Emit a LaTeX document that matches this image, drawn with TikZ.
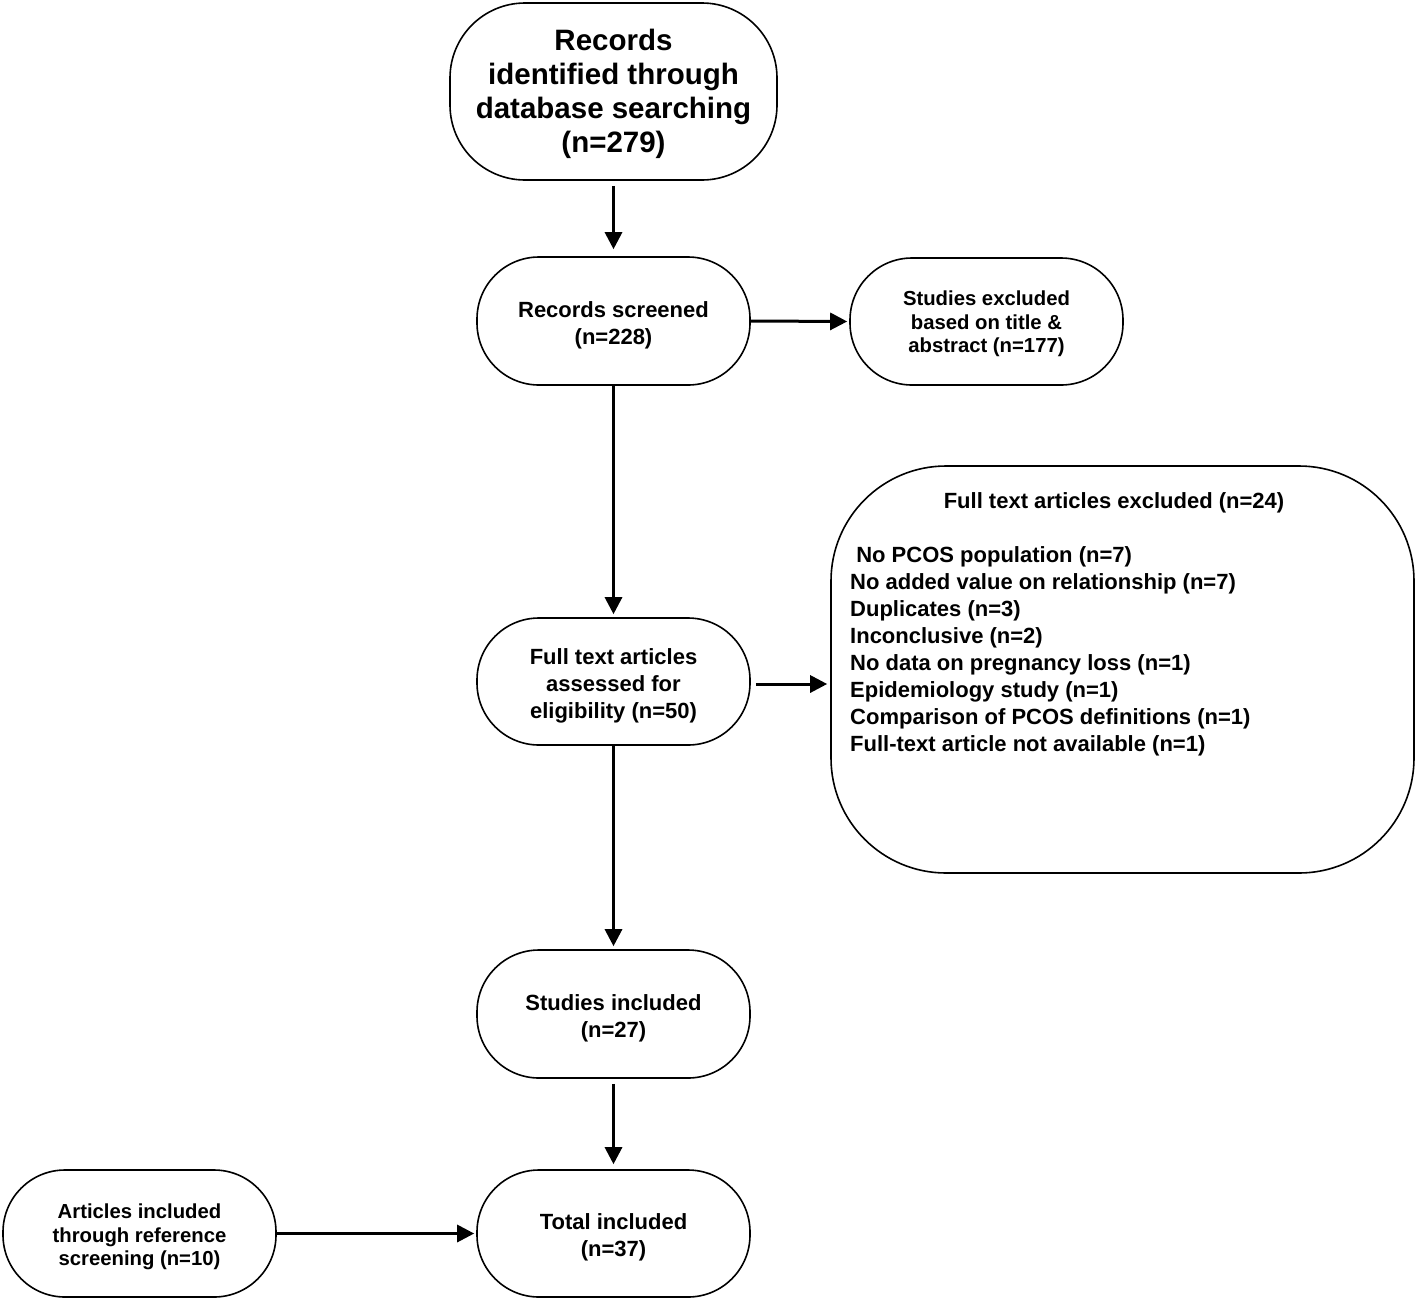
\documentclass[tikz,border=0pt]{standalone}
\usepackage{fontspec}
\setmainfont{Liberation Sans}
\usetikzlibrary{arrows.meta}
\begin{document}
\begin{tikzpicture}[x=1pt,y=-1pt,
  box/.style={draw, line width=1.6pt, rounded corners=#1, inner sep=0pt},
  box/.default=62pt,
  lbl/.style={inner sep=0pt, align=center},
  big/.style={lbl, font=\bfseries\fontsize{29.5}{34}\selectfont},
  mid/.style={lbl, font=\bfseries\fontsize{22}{27}\selectfont},
  small/.style={lbl, font=\bfseries\fontsize{20.3}{23.5}\selectfont},
  arr/.style={line width=3pt, -{Triangle[length=17pt,width=17pt]}}
]
\useasboundingbox (0,0) rectangle (1417,1302);
% boxes
\node[box=75pt, minimum width=327pt, minimum height=177pt] (top) at (613.5,91.5) {};
\node[box, minimum width=273pt, minimum height=128pt] (scr) at (613.5,321) {};
\node[box, minimum width=273pt, minimum height=127pt] (exc) at (986.5,321.5) {};
\node[box=115pt, minimum width=583pt, minimum height=407pt] (ftx) at (1122.5,669.5) {};
\node[box, minimum width=273pt, minimum height=127pt] (ass) at (613.5,681.5) {};
\node[box, minimum width=273pt, minimum height=128pt] (inc) at (613.5,1014) {};
\node[box, minimum width=273pt, minimum height=127pt] (tot) at (613.5,1233.5) {};
\node[box, minimum width=273pt, minimum height=127pt] (art) at (139.5,1233.5) {};
% texts
\node[big] (topt) at ([yshift=-2pt]top.center)
  {Records\\identified through\\database searching\\(n=279)};
\node[mid] (scrt) at ([yshift=-4pt]scr.center) {Records screened\\(n=228)};
\node[small] (exct) at ([yshift=-2.5pt]exc.center)
  {Studies excluded\\based on title \&\\abstract (n=177)};
\node[mid] (ftxt) at (1114,503) {Full text articles excluded (n=24)};
\node[mid, align=left, anchor=west] (ftxl) at (850,651)
  {\ No PCOS population (n=7)\\No added value on relationship (n=7)\\Duplicates (n=3)\\Inconclusive (n=2)\\No data on pregnancy loss (n=1)\\Epidemiology study (n=1)\\Comparison of PCOS definitions (n=1)\\Full-text article not available (n=1)};
\node[mid] (asst) at ([yshift=-4pt]ass.center) {Full text articles\\assessed for\\eligibility (n=50)};
\node[mid] (inct) at ([yshift=-4pt]inc.center) {Studies included\\(n=27)};
\node[mid] (tott) at ([yshift=-4pt]tot.center) {Total included\\(n=37)};
\node[small] (artt) at ([yshift=-3.5pt]art.center)
  {Articles included\\through reference\\screening (n=10)};
% connectors
\draw[arr, shorten <=5pt, shorten >=7pt] (top.south) -- (scr.north);
\draw[arr, shorten >=2pt] (scr.east) -- (exc.west);
\draw[arr, shorten >=3pt] (scr.south) -- (ass.north);
\draw[arr, shorten <=5pt, shorten >=3pt] ([yshift=-2.5pt]ass.east) -- ([yshift=-2.5pt]ass.east -| ftx.west);
\draw[arr, shorten >=3pt] (ass.south) -- (inc.north);
\draw[arr, shorten <=5pt, shorten >=5pt] (inc.south) -- (tot.north);
\draw[arr, shorten >=2pt] (art.east) -- (tot.west);
\end{tikzpicture}
\end{document}
